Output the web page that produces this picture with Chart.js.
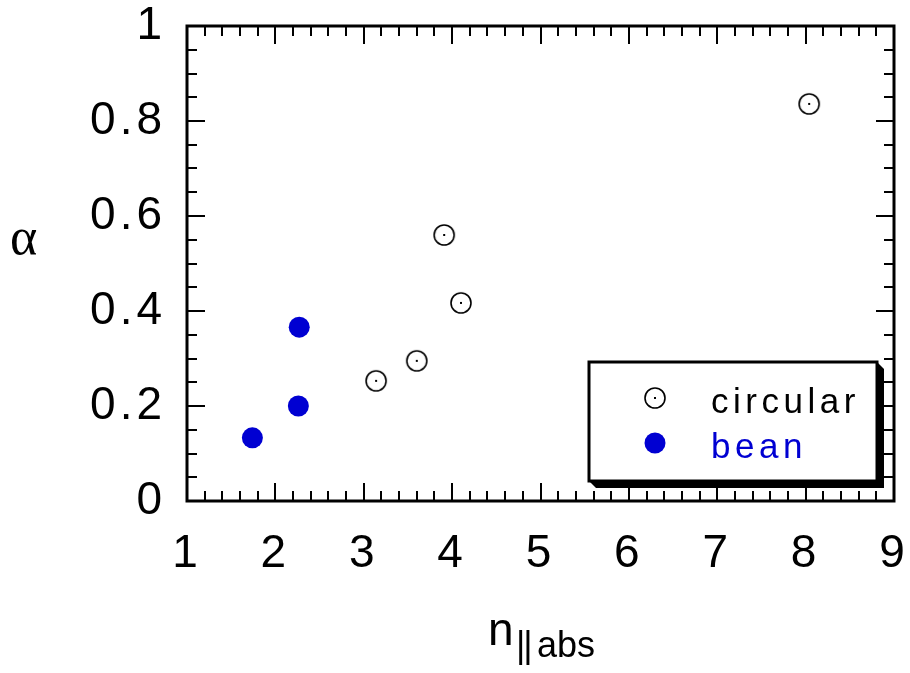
<!DOCTYPE html>
<html>
<head>
<meta charset="utf-8">
<script src="https://cdn.jsdelivr.net/npm/chart.js@4.4.1/dist/chart.umd.min.js"></script>
<style>
  html, body { margin: 0; padding: 0; background: #fff; }
  #wrap { width: 910px; height: 673px; }
</style>
</head>
<body>
<div id="wrap"><canvas id="c" width="910" height="673"></canvas></div>
<script>
// ---- data ----
const circularX = [3.14, 3.60, 3.91, 4.10, 8.04];
const circularY = [0.253, 0.295, 0.560, 0.417, 0.836];
const beanX = [1.74, 2.26, 2.27];
const beanY = [0.133, 0.200, 0.366];
const seriesNames = ['circular', 'bean'];
const xTickLabels = ['1', '2', '3', '4', '5', '6', '7', '8', '9'];
const yTickLabels = ['0', '0.2', '0.4', '0.6', '0.8', '1'];

const BLUE = 'rgb(0,0,210)';

function circleDotCanvas() {
  const cv = document.createElement('canvas');
  cv.width = 24; cv.height = 24;
  const g = cv.getContext('2d');
  g.strokeStyle = '#000';
  g.lineWidth = 1.6;
  g.beginPath(); g.arc(12, 12, 10, 0, Math.PI * 2); g.stroke();
  g.fillStyle = '#000';
  g.fillRect(11, 11, 2, 2);
  return cv;
}
const circleImg = circleDotCanvas();

const toPts = (xs, ys) => xs.map((x, i) => ({ x: x, y: ys[i] }));

const framePlugin = {
  id: 'frame',
  beforeDraw(chart) {
    chart.ctx.letterSpacing = '4px';
  },
  afterDraw(chart) {
    const ctx = chart.ctx;
    const xs = chart.scales.x, ys = chart.scales.y;
    const L = chart.chartArea.left, R = chart.chartArea.right;
    const T = chart.chartArea.top, B = chart.chartArea.bottom;
    ctx.save();
    ctx.letterSpacing = '0px';
    // ticks
    ctx.strokeStyle = '#000';
    ctx.lineWidth = 2;
    ctx.beginPath();
    for (let k = 0; k <= 40; k++) {
      const v = xs.min + k * 0.2;
      const px = Math.round(xs.getPixelForValue(v));
      const len = (k % 5 === 0) ? 18 : 10;
      ctx.moveTo(px, B); ctx.lineTo(px, B - len);
      ctx.moveTo(px, T); ctx.lineTo(px, T + len);
    }
    for (let k = 0; k <= 20; k++) {
      const v = ys.min + k * 0.05;
      const py = Math.round(ys.getPixelForValue(v));
      const len = (k % 4 === 0) ? 18 : 10;
      ctx.moveTo(L, py); ctx.lineTo(L + len, py);
      ctx.moveTo(R, py); ctx.lineTo(R - len, py);
    }
    ctx.stroke();
    // frame
    ctx.lineWidth = 3;
    ctx.strokeRect(L, T, R - L, B - T);

    // legend box with shadow
    const bx = 589, by = 362, bw = 288, bh = 119, sh = 7;
    ctx.fillStyle = '#000';
    ctx.beginPath();
    ctx.moveTo(bx + bw, by);
    ctx.lineTo(bx + bw + sh, by + sh);
    ctx.lineTo(bx + bw + sh, by + bh + sh);
    ctx.lineTo(bx + sh, by + bh + sh);
    ctx.lineTo(bx, by + bh);
    ctx.closePath();
    ctx.fill();
    ctx.fillStyle = '#fff';
    ctx.fillRect(bx, by, bw, bh);
    ctx.lineWidth = 3;
    ctx.strokeStyle = '#000';
    ctx.strokeRect(bx, by, bw, bh);
    // legend entries
    ctx.drawImage(circleImg, 655 - 12, 398 - 12);
    ctx.fillStyle = BLUE;
    ctx.beginPath(); ctx.arc(655, 443, 10.5, 0, Math.PI * 2); ctx.fill();
    ctx.font = '35px "Liberation Sans", Arial, sans-serif';
    ctx.letterSpacing = '4.5px';
    ctx.textAlign = 'left';
    ctx.textBaseline = 'alphabetic';
    ctx.fillStyle = '#000';
    ctx.fillText(seriesNames[0], 711, 413);
    ctx.fillStyle = BLUE;
    ctx.fillText(seriesNames[1], 711, 458);

    // axis titles
    ctx.letterSpacing = '0px';
    ctx.fillStyle = '#000';
    ctx.font = '46px "Liberation Sans", Arial, sans-serif';
    ctx.fillText('n', 488, 645);
    ctx.font = '36px "Liberation Sans", Arial, sans-serif';
    ctx.letterSpacing = '-2px';
    ctx.fillText('||', 516, 657);
    ctx.letterSpacing = '0px';
    ctx.fillText('abs', 537, 657);
    ctx.font = '52px "Liberation Serif", "Times New Roman", serif';
    ctx.fillText('\u03B1', 10, 254);
    ctx.restore();
  }
};

new Chart(document.getElementById('c'), {
  type: 'scatter',
  data: {
    datasets: [
      {
        label: seriesNames[0],
        data: toPts(circularX, circularY),
        pointStyle: circleImg,
        pointRadius: 10,
        pointHoverRadius: 10
      },
      {
        label: seriesNames[1],
        data: toPts(beanX, beanY),
        pointStyle: 'circle',
        pointRadius: 10.5,
        pointHoverRadius: 10.5,
        backgroundColor: BLUE,
        borderColor: BLUE,
        borderWidth: 0
      }
    ]
  },
  options: {
    responsive: false,
    animation: false,
    devicePixelRatio: 1,
    layout: { padding: { left: 0, right: 16, top: 26, bottom: 0 } },
    plugins: {
      legend: { display: false },
      tooltip: { enabled: false }
    },
    scales: {
      x: {
        type: 'linear',
        min: 1, max: 9,
        afterFit(s) { s.height = 172; s.paddingLeft = 0; s.paddingRight = 0; },
        grid: { display: false, drawTicks: false },
        border: { display: false },
        ticks: {
          stepSize: 1,
          padding: 26,
          color: '#000',
          font: { family: '"Liberation Sans", Arial, sans-serif', size: 46 },
          callback: (v) => xTickLabels[Math.round(v) - 1]
        }
      },
      y: {
        type: 'linear',
        min: 0, max: 1,
        afterFit(s) { s.width = 187; s.paddingTop = 0; s.paddingBottom = 0; },
        grid: { display: false, drawTicks: false },
        border: { display: false },
        ticks: {
          stepSize: 0.2,
          padding: 21,
          color: '#000',
          font: { family: '"Liberation Sans", Arial, sans-serif', size: 46 },
          callback: (v) => yTickLabels[Math.round(v * 5)]
        }
      }
    }
  },
  plugins: [framePlugin]
});
</script>
</body>
</html>
